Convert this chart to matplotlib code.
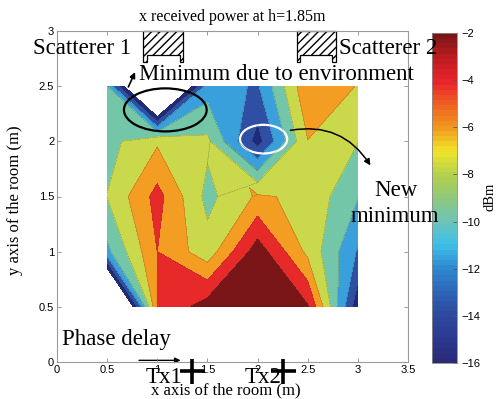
import numpy as np
import matplotlib
matplotlib.use("Agg")
import matplotlib.pyplot as plt
import matplotlib.tri as mtri
from matplotlib.colors import LinearSegmentedColormap, Normalize
from matplotlib.patches import Polygon, Ellipse, FancyArrowPatch
import matplotlib.cm as cm

# Measurement grid (m)
x_pos = [0.5, 1.0, 1.5, 2.0, 2.5, 3.0]
y_pos = [0.5, 1.0, 1.5, 2.0, 2.5]

# Received power (dBm), one row per y position
power_y050 = [-29.2, -3.9, -1.0, -0.5, -1.8, -15.5]
power_y100 = [-10.5, -4.0, -7.2, -0.9, -6.5, -12.2]
power_y150 = [-7.95, -3.3, -8.6, -5.7, -6.5, -9.9]
power_y200 = [-8.7, -6.3, -7.6, -14.9, -6.05, -7.95]
power_y250 = [-10.0, -28.0, -11.0, -12.25, -4.3, -6.1]

levels = [-16, -14, -12, -10, -8, -6, -4, -2, 0]
band_colors = ['#1f2a7c', '#2e4fa3', '#3aa0dc', '#74c6a9',
               '#c9d94b', '#f39d22', '#e8292a', '#7a1517']

cbar_ticks = [-16, -14, -12, -10, -8, -6, -4, -2]
x_ticks = [0, 0.5, 1, 1.5, 2, 2.5, 3, 3.5]
x_ticklabels = ['0', '0.5', '1', '1.5', '2', '2.5', '3', '3.5']
y_ticks = [0, 0.5, 1, 1.5, 2, 2.5, 3]
y_ticklabels = ['0', '0.5', '1', '1.5', '2', '2.5', '3']

tx_x = [1.35, 2.25]
tx_label_x = [1.07, 2.05]
tx_labels = ['Tx1', 'Tx2']

Z = np.array([power_y050, power_y100, power_y150, power_y200, power_y250])
X, Y = np.meshgrid(x_pos, y_pos)
nx, ny = len(x_pos), len(y_pos)
zf = Z.ravel()

W, H = 503, 399
fig = plt.figure(figsize=(W / 100, H / 100), dpi=100)
fig.patch.set_facecolor('white')

def fx(px):
    return px / W

def fy(py):
    return 1 - py / H

ax = fig.add_axes([fx(57), fy(362), fx(408) - fx(57), fy(31) - fy(362)])
line_kw = dict(colors='#4a4a3a', linewidths=0.35, alpha=0.6)
ax.contourf(X, Y, Z, levels=levels, colors=band_colors)
ax.contour(X, Y, Z, levels=levels[:-1], **line_kw)

# Saddle cells: redraw them split along the diagonal that joins the high corners
saddle_tris = []
for j in range(ny - 1):
    for i in range(nx - 1):
        c00 = j * nx + i
        c10 = c00 + 1
        c01 = c00 + nx
        c11 = c01 + 1
        for lev in levels[:-1]:
            up = [zf[c] > lev for c in (c00, c10, c11, c01)]
            if up[0] == up[2] and up[1] == up[3] and up[0] != up[1]:
                if up[0]:
                    saddle_tris += [(c00, c10, c11), (c00, c11, c01)]
                else:
                    saddle_tris += [(c00, c10, c01), (c10, c11, c01)]
                break
if saddle_tris:
    tri = mtri.Triangulation(X.ravel(), Y.ravel(), saddle_tris)
    ax.tricontourf(tri, zf, levels=levels, colors=band_colors)
    ax.tricontour(tri, zf, levels=levels[:-1], **line_kw)

ax.set_xlim(0, 3.5)
ax.set_ylim(0, 3)
ax.set_xticks(x_ticks)
ax.set_xticklabels(x_ticklabels)
ax.set_yticks(y_ticks)
ax.set_yticklabels(y_ticklabels)
ax.tick_params(direction='in', length=3, width=0.6, color='#8a8a8a',
               labelsize=8, pad=2, top=True, right=True)
for lab in ax.get_xticklabels() + ax.get_yticklabels():
    lab.set_family('Liberation Sans')
for sp in ax.spines.values():
    sp.set_color('#9a9a9a')
    sp.set_linewidth(0.8)

serif = 'Liberation Serif'
fig.text(fx(226), fy(390), 'x axis of the room (m)', family=serif, fontsize=12,
         ha='center', va='center')
fig.text(fx(15), fy(200), 'y axis of the room (m)', family=serif, fontsize=12,
         rotation=90, ha='center', va='center')
fig.text(fx(232), fy(17), 'x received power at h=1.85m', family=serif,
         fontsize=11.5, ha='center', va='center')

# Scatterers (hatched boxes with legs at the top wall)
def scatterer(x0, x1):
    leg = 0.035
    pts = [(x0, 3.0), (x1, 3.0), (x1, 2.72), (x1 - leg, 2.72), (x1 - leg, 2.785),
           (x0 + leg, 2.785), (x0 + leg, 2.72), (x0, 2.72)]
    p = Polygon(pts, closed=True, fill=False, hatch='////', edgecolor='black',
                linewidth=0.9, clip_on=False)
    ax.add_patch(p)

scatterer(0.86, 1.26)
scatterer(2.39, 2.78)

big = 16.5
fig.text(fx(82), fy(49), 'Scatterer 1', family=serif, fontsize=big, ha='center', va='center')
fig.text(fx(388), fy(49), 'Scatterer 2', family=serif, fontsize=big, ha='center', va='center')
fig.text(fx(276), fy(74), 'Minimum due to environment', family=serif, fontsize=big,
         ha='center', va='center')
fig.text(fx(396), fy(190), 'New', family=serif, fontsize=big, ha='center', va='center')
fig.text(fx(395), fy(217), 'minimum', family=serif, fontsize=big, ha='center', va='center')
fig.text(fx(116), fy(340), 'Phase delay', family=serif, fontsize=big, ha='center', va='center')

# Highlight ellipses
ax.add_patch(Ellipse((1.08, 2.285), 0.825, 0.39, fill=False, edgecolor='black', linewidth=1.6))
ax.add_patch(Ellipse((2.06, 2.02), 0.47, 0.26, fill=False, edgecolor='white', linewidth=1.6))

ax.add_patch(FancyArrowPatch((0.70, 2.47), (0.79, 2.65), arrowstyle='-|>', mutation_scale=8,
                             color='black', linewidth=1.2, clip_on=False))
ax.add_patch(FancyArrowPatch((2.30, 2.095), (3.14, 1.76), arrowstyle='-|>', mutation_scale=9,
                             connectionstyle='arc3,rad=-0.35', color='black', linewidth=1.1,
                             clip_on=False))
ax.add_patch(FancyArrowPatch((0.79, 0.015), (1.26, 0.015), arrowstyle='-|>', mutation_scale=8,
                             color='black', linewidth=1.0, clip_on=False))

# Transmitters
ax.plot(tx_x, [-0.085] * len(tx_x), linestyle='none', marker='+', markersize=18,
        markeredgewidth=2.6, color='black', clip_on=False, zorder=5)
for xt, lab in zip(tx_label_x, tx_labels):
    ax.text(xt, -0.14, lab, family=serif, fontsize=big, ha='center', va='center',
            clip_on=False)

# Colour bar
cmap = LinearSegmentedColormap.from_list('power', [
    (0.0, '#2a2a78'), (1 / 14, '#2b3a90'), (2 / 14, '#2d4aa0'), (3 / 14, '#2c66b8'),
    (4 / 14, '#2e8ad0'), (5 / 14, '#3ec0e8'), (6 / 14, '#6ec4b8'), (7 / 14, '#8ec97a'),
    (8 / 14, '#b5d04c'), (9 / 14, '#f0e52a'), (10 / 14, '#f29a1f'), (11 / 14, '#ee6222'),
    (12 / 14, '#e8252a'), (13 / 14, '#c01c20'), (1.0, '#7a1517')], N=64)
cax = fig.add_axes([fx(432), fy(363), fx(457) - fx(432), fy(33) - fy(363)])
sm = cm.ScalarMappable(norm=Normalize(-16, -2), cmap=cmap)
cb = fig.colorbar(sm, cax=cax, ticks=cbar_ticks)
cb.ax.tick_params(labelsize=8, length=3, width=0.6, direction='in', color='#555555')
for lab in cb.ax.get_yticklabels():
    lab.set_family('Liberation Sans')
cb.outline.set_edgecolor('#8a8a8a')
cb.outline.set_linewidth(0.6)
fig.text(fx(490), fy(197), 'dBm', family=serif, fontsize=10.5, rotation=90,
         ha='center', va='center')

fig.savefig('out.png', dpi=100)
